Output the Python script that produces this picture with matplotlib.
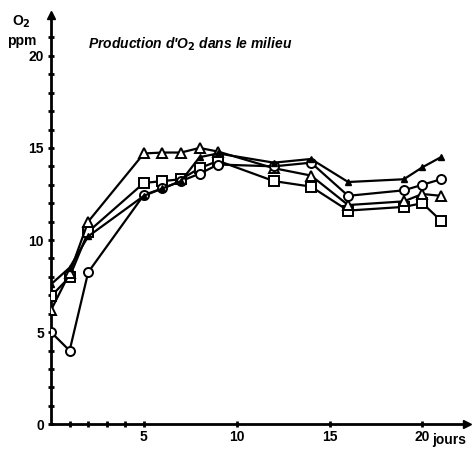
import numpy as np
import matplotlib
matplotlib.use("Agg")
import matplotlib.pyplot as plt

plt.rcParams['font.family'] = ['Liberation Sans', 'DejaVu Sans']

# jours de mesure
jours = [0, 1, 2, 5, 6, 7, 8, 9, 12, 14, 16, 19, 20, 21]

# O2 (ppm) pour chaque serie
o2_noir = [7.6, 8.5, 10.2, 12.4, 12.8, 13.2, 14.5, 14.7, 14.2, 14.4, 13.15, 13.3, 13.95, 14.5]
o2_rond = [5.0, 4.0, 8.25, 12.45, 12.8, 13.2, 13.6, 14.1, 14.0, 14.2, 12.4, 12.7, 13.0, 13.3]
o2_triangle = [6.2, 8.2, 11.0, 14.7, 14.75, 14.75, 15.0, 14.8, 13.9, 13.5, 11.9, 12.1, 12.5, 12.4]
o2_carre = [6.95, 8.0, 10.45, 13.1, 13.2, 13.3, 13.9, 14.3, 13.2, 12.9, 11.6, 11.8, 12.0, 11.05]

yticks = [0, 5, 10, 15, 20]
xticks_lab = [5, 10, 15, 20]

fig = plt.figure(figsize=(4.77, 4.49), dpi=100)
ax = fig.add_axes([0.107, 0.055, 0.872, 0.911])

ax.plot(jours, o2_carre, '-s', color='black', lw=1.6, ms=6.5, mfc='white', mec='black', mew=1.4, zorder=3)
ax.plot(jours, o2_triangle, '-^', color='black', lw=1.6, ms=6.5, mfc='white', mec='black', mew=1.4, zorder=4)
ax.plot(jours, o2_rond, '-o', color='black', lw=1.6, ms=6.5, mfc='white', mec='black', mew=1.4, zorder=5)
ax.plot(jours, o2_noir, '-^', color='black', lw=1.6, ms=5, mfc='black', mec='black', zorder=6)

ax.set_xlim(0, 22.4)
ax.set_ylim(0, 22.2)

for s in ['top', 'right']:
    ax.spines[s].set_visible(False)
ax.spines['left'].set_linewidth(2)
ax.spines['bottom'].set_linewidth(2)
ax.plot(1, 0, '>k', ms=6, transform=ax.transAxes, clip_on=False)
ax.plot(0, 1, '^k', ms=6, transform=ax.transAxes, clip_on=False)

ax.set_yticks(yticks)
ax.set_yticks(range(0, 22), minor=True)
ax.set_xticks(xticks_lab)
ax.set_xticks([1, 2, 3, 4], minor=True)
ax.tick_params(which='both', direction='inout', length=4, width=2, pad=2)
ax.tick_params(axis='y', which='major', labelsize=10, pad=3)
ax.tick_params(axis='x', which='major', labelsize=10)
for lab in ax.get_xticklabels() + ax.get_yticklabels():
    lab.set_fontweight('bold')

ax.text(20.55, -0.45, 'jours', fontsize=10, fontweight='bold', ha='left', va='top')
ax.text(-1.6, 22.3, 'O$_\\mathbf{2}$', fontsize=10, fontweight='bold', ha='center', va='top')
ax.text(-1.6, 21.2, 'ppm', fontsize=10, fontweight='bold', ha='center', va='top')
ax.text(2.0, 20.6, "Production d'O$_\\mathbf{2}$ dans le milieu", fontsize=10,
        fontweight='bold', style='italic', ha='left', va='center')

fig.savefig('out.png', dpi=100)
